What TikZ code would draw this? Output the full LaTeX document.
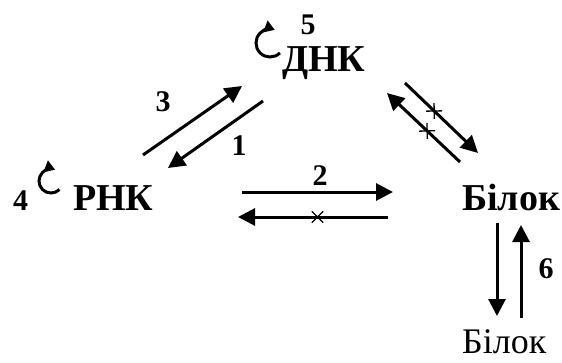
\documentclass[tikz,border=0pt]{standalone}
\usepackage{fontspec}
\setmainfont{Liberation Serif}
\usetikzlibrary{positioning, arrows.meta, shapes.misc}

\begin{document}
\begin{tikzpicture}[
        x=1pt, y=1pt,
        molecula/.style={
            inner sep=0pt,
            anchor=base west,
            font=\fontsize{38}{44}\selectfont\bfseries
        },
        numero/.style={
            inner sep=0pt,
            font=\fontsize{30}{34}\selectfont\bfseries
        },
        flecha/.style={
            -{Triangle[length=17pt,width=17pt]},
            line width=3pt
        },
        ciclo/.style={
            -{Triangle[length=10pt,width=12pt]},
            line width=3pt
        },
        bloqueo/.style={
            sloped,
            cross out,
            draw,
            line width=1.3pt,
            minimum size=10pt,
            inner sep=0pt
        }
    ]
        \useasboundingbox (0,0) rectangle (562,362);

        % molecules
        \node[molecula] (dnk) at (282,290) {ДНК};
        \node[molecula] (rnk) at (73,152) {РНК};
        \node[molecula] (bilok) at (462,152) {Білок};
        \node[molecula, font=\fontsize{36}{42}\selectfont] (bilok2) at (462,9) {Білок};

        % self-replication loops
        \coordinate (cicloD) at (270,319);
        \coordinate (cicloR) at (51,181);
        \draw[ciclo] ([shift={(-45:14)}]cicloD) arc[start angle=-45, end angle=-290, radius=14];
        \draw[ciclo] ([shift={(-45:12)}]cicloR) arc[start angle=-45, end angle=-290, radius=12];

        % arrow end points
        \coordinate (a3s) at (143,207);
        \coordinate (a3e) at (242,276);
        \coordinate (a1s) at (263,261);
        \coordinate (a1e) at (168,194);
        \coordinate (a2s) at (242,170);
        \coordinate (a2e) at (393,170);
        \coordinate (b2s) at (388,145);
        \coordinate (b2e) at (238,145);
        \coordinate (pds) at (460,200);
        \coordinate (pde) at (387,269);
        \coordinate (dps) at (405,279);
        \coordinate (dpe) at (478,209);
        \coordinate (p6s) at (497,139);
        \coordinate (p6e) at (497,46);
        \coordinate (q6s) at (521,44);
        \coordinate (q6e) at (521,137);

        \draw[flecha] (a3s) -- (a3e);
        \draw[flecha] (a1s) -- (a1e);
        \draw[flecha] (a2s) -- (a2e);
        \draw[flecha] (b2s) -- node[bloqueo, pos=.47] {} (b2e);
        \draw[flecha] (pds) -- node[bloqueo, pos=.45] {} (pde);
        \draw[flecha] (dps) -- node[bloqueo, pos=.4] {} (dpe);
        \draw[flecha] (p6s) -- (p6e);
        \draw[flecha] (q6s) -- (q6e);

        % numbers
        \node[numero] (n1) at (239,216) {1};
        \node[numero] (n2) at (320,186) {2};
        \node[numero] (n3) at (163,260) {3};
        \node[numero, anchor=base west] (n4) at (13,152) {4};
        \node[numero] (n5) at (308,337) {5};
        \node[numero] (n6) at (546,93) {6};

    \end{tikzpicture}
\end{document}
